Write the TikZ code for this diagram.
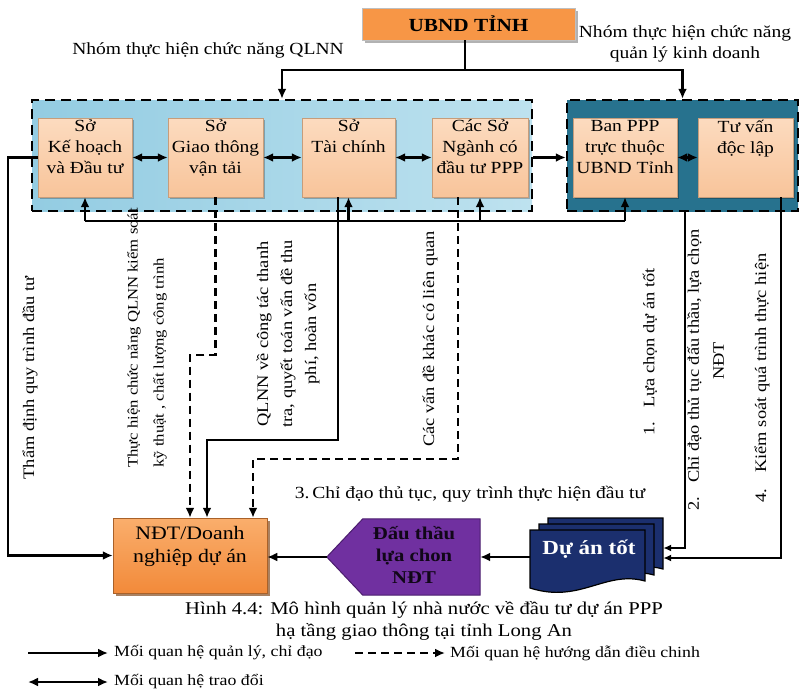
\documentclass[tikz,border=0pt]{standalone}
\usepackage{fontspec}
\setmainfont{Liberation Serif}[FakeStretch=1.15]
\usetikzlibrary{arrows.meta,shadows,calc}
\definecolor{peachT}{HTML}{FCDBBF}
\definecolor{peachB}{HTML}{F8C49A}
\definecolor{orangeU}{HTML}{F79646}
\definecolor{ndtT}{HTML}{FAAE6C}
\definecolor{ndtB}{HTML}{F28A3A}
\definecolor{lgL}{HTML}{93CCE2}
\definecolor{lgM}{HTML}{D3ECF5}
\definecolor{lgR}{HTML}{BEE2EF}
\definecolor{rgE}{HTML}{27728E}
\definecolor{rgM}{HTML}{409BBC}
\definecolor{purp}{HTML}{7030A0}
\definecolor{purpD}{HTML}{4B1D6E}
\definecolor{navy}{HTML}{1B2F6E}
\newcommand\fsz[2]{\fontsize{#1pt}{#2pt}\selectfont}
\tikzset{
  plain/.style={line width=2.4pt},
  arr/.style={line width=2.4pt,-{Latex[length=10pt,width=9pt]}},
  arrs/.style={line width=2pt,-{Latex[length=8pt,width=7pt]}},
  dbl/.style={line width=2.6pt,{Latex[length=10pt,width=9pt]}-{Latex[length=10pt,width=9pt]}},
  darr/.style={arr,dash pattern=on 8pt off 5pt},
  grp/.style={draw=black,line width=2.4pt,dash pattern=on 10pt off 6pt,inner sep=0,minimum height=111},
  sobox/.style={draw=peachB!80!black,line width=0.4pt,top color=peachT,bottom color=peachB,
    minimum height=79,inner sep=0,
    drop shadow={shadow xshift=1.5pt,shadow yshift=-1.5pt,fill=black,opacity=0.25}},
  sotxt/.style={anchor=north,align=center,font=\fsz{17}{21},inner sep=0},
  rlab/.style={rotate=90,align=center,font=\fsz{16}{24},inner sep=0},
  lab/.style={font=\fsz{17}{21},inner sep=0},
  doc/.style={fill=navy,draw=black,line width=1.2pt},
}
\begin{document}
\begin{tikzpicture}[x=1pt,y=-1pt]
\useasboundingbox (0,0) rectangle (800,691);

% top
\node[draw=black!25,fill=orangeU,minimum width=213,minimum height=32,inner sep=0,
  font=\bfseries\fsz{18.5}{22},
  drop shadow={shadow xshift=2.5pt,shadow yshift=-2.5pt,fill=black,opacity=0.3}] (ubnd) at (468.5,24) {UBND TỈNH};
\node[lab] (lq) at (208,50) {Nhóm thực hiện chức năng QLNN};
\node[lab,align=center] (lk) at (685,44) {Nhóm thực hiện chức năng\\quản lý kinh doanh};

% groups
\node[grp,minimum width=500,left color=lgL,middle color=lgM,right color=lgR] (lg) at (282,155.5) {};
\node[grp,minimum width=231,left color=rgE,middle color=rgM,right color=rgE] (rg) at (682.5,155.5) {};

% boxes
\node[sobox,minimum width=94] (kh) at (85,157.5) {};
\node[sotxt] at ([yshift=-2pt]kh.north) {Sở\\Kế hoạch\\và Đầu tư};
\node[sobox,minimum width=95] (gt) at (215.5,157.5) {};
\node[sotxt] at ([yshift=-2pt]gt.north) {Sở\\Giao thông\\vận tải};
\node[sobox,minimum width=93] (tc) at (348.5,157.5) {};
\node[sotxt] at ([yshift=-2pt]tc.north) {Sở\\Tài chính};
\node[sobox,minimum width=96] (cs) at (480,157.5) {};
\node[sotxt] at ([yshift=-2pt]cs.north) {Các Sở\\Ngành có\\đầu tư PPP};
\node[sobox,minimum width=104] (ban) at (625,157.5) {};
\node[sotxt] at ([yshift=-2pt]ban.north) {Ban PPP\\trực thuộc\\UBND Tỉnh};
\node[sobox,minimum width=95] (tv) at (745.5,157.5) {};
\node[sotxt] at ([yshift=-2pt]tv.north) {Tư vấn\\độc lập};

% bottom nodes
\node[draw=ndtB!70!black,line width=0.5pt,top color=ndtT,bottom color=ndtB,minimum width=154,minimum height=75,inner sep=0,
  drop shadow={shadow xshift=3pt,shadow yshift=-3pt,fill=ndtB!55!black,opacity=0.7}] (ndt) at (190,555.5) {};
\node[font=\fsz{19}{23},align=center,inner sep=0] at (190,546) {NĐT/Doanh\\nghiệp dự án};

\node[minimum width=153,minimum height=76,inner sep=0] (dt) at (403.5,557) {};
\draw[fill=purp,draw=purpD,line width=1pt] (dt.west) -- ($(dt.north west)+(36,0)$) -- (dt.north east)
  -- (dt.south east) -- ($(dt.south west)+(36,0)$) -- cycle;
\node[font=\bfseries\fsz{18}{22},align=center,text=black!85!purp,inner sep=0] at (414,555) {Đấu thầu\\lựa chon\\NĐT};

\node[minimum width=133,minimum height=74,inner sep=0] (da) at (596.5,555) {};
\foreach \dx/\dy in {18/-12,9/-6,0/0}{
  \draw[doc,shift={(\dx,\dy)}] (530,530) -- (645,530) -- (645,581)
    .. controls (605,570) and (580,604) .. (530,588) -- cycle;
}
\node[font=\bfseries\fsz{20}{24},text=white,inner sep=0] at (589,549) {Dự án tốt};

% top connectors
\coordinate (uj) at ($(ubnd.south)+(-3.5,30)$);
\draw[plain] (ubnd.south -| uj) -- (uj);
\draw[arr] (uj) -| (lg.north);
\draw[arr] (uj) -| (rg.north);

% horizontal links
\draw[dbl] (kh) -- (gt);
\draw[dbl] (gt) -- (tc);
\draw[dbl] (tc) -- (cs);
\draw[arr] (lg.east |- cs) -- (rg.west |- cs);
\draw[dbl] (ban) -- (tv);

% bus
\coordinate (bL) at (85,221);
\coordinate (bR) at (ban.south |- bL);
\draw[plain] (bL) -- (bR);
\draw[arr] (bL) -- (kh.south);
\draw[arr] (tc.south |- bL) -- (tc.south);
\draw[arr] (cs.south |- bL) -- (cs.south);
\draw[arr] (bR) -- (ban.south);

% to NDT
\coordinate (k1) at (8,0);
\draw[arr] (kh.west) -- (kh.west -| k1) -- (k1 |- ndt.west) -- (ndt.west);
\coordinate (g3) at (190,355);
\draw[darr] (gt.south) |- (g3) -- (ndt.north);
\coordinate (t1) at ($(tc.south)+(-10.5,0)$);
\coordinate (t3) at (207,440);
\draw[arr] (t1) |- (t3) -- (t3 |- ndt.north);
\coordinate (c1) at ($(cs.south)+(-22,0)$);
\coordinate (c3) at (253,459);
\draw[darr] (c1) |- (c3) -- (c3 |- ndt.north);

% bottom chain
\draw[arr] (dt.west) -- (ndt.east |- dt.west);
\draw[arr] (da.west |- dt.east) -- (dt.east);
\coordinate (ya) at (0,548);
\coordinate (yb) at (0,558);
\coordinate (r1) at ($(rg.south)+(2.5,0)$);
\draw[arrs] (r1) |- (da.east |- ya);
\coordinate (v1) at ($(tv.south)+(35.5,0)$);
\draw[arrs] (v1) |- (da.east |- yb);

% rotated labels
\node[rlab] (l1) at (30,378) {Thẩm định quy trình đầu tư};
\node[rlab,align=left,anchor=west,font=\fsz{14.5}{26}] (l2) at (147,468) {Thực hiện chức năng QLNN kiểm soát\\kỹ thuật , chất lượng công trình};
\node[rlab] (l3) at (288,334) {QLNN về công tác thanh\\tra, quyết toán vấn đề thu\\phí, hoàn vốn};
\node[rlab] (l4) at (430,339) {Các vấn đề khác có liên quan};
\node[rlab] (l5) at (650,352) {1.\hspace{14pt}Lựa chọn dự án tốt};
\node[rlab,font=\fsz{16}{25}] (l6) at (705.5,370) {2.\hspace{14pt}Chỉ đạo thủ tục đấu thầu, lựa chọn\\\hspace*{18pt}NĐT};
\node[rlab] (l7) at (762,378) {4.\hspace{16pt}Kiểm soát quá trình thực hiện};
\node[lab] (l8) at (470,494) {3.\,Chỉ đạo thủ tục, quy trình thực hiện đầu tư};

% caption
\node[font=\fsz{18}{22},align=center,inner sep=0] (cap) at (424,621) {Hình 4.4: Mô hình quản lý nhà nước về đầu tư dự án PPP\\hạ tầng giao thông tại tỉnh Long An};

% legend
\coordinate (la1) at (28,653); \coordinate (la2) at (108,653);
\draw[arr] (la1) -- (la2);
\node[font=\fsz{15.5}{19},anchor=west,inner sep=0] at (114,653) {Mối quan hệ quản lý, chỉ đạo};
\coordinate (lb1) at (355,653); \coordinate (lb2) at (445,653);
\draw[darr] (lb1) -- (lb2);
\node[font=\fsz{15.5}{19},anchor=west,inner sep=0] at (450,653) {Mối quan hệ hướng dẫn điều chinh};
\coordinate (lc1) at (28,682); \coordinate (lc2) at (108,682);
\draw[dbl] (lc1) -- (lc2);
\node[font=\fsz{15.5}{19},anchor=west,inner sep=0] at (114,682) {Mối quan hệ trao đổi};
\end{tikzpicture}
\end{document}
